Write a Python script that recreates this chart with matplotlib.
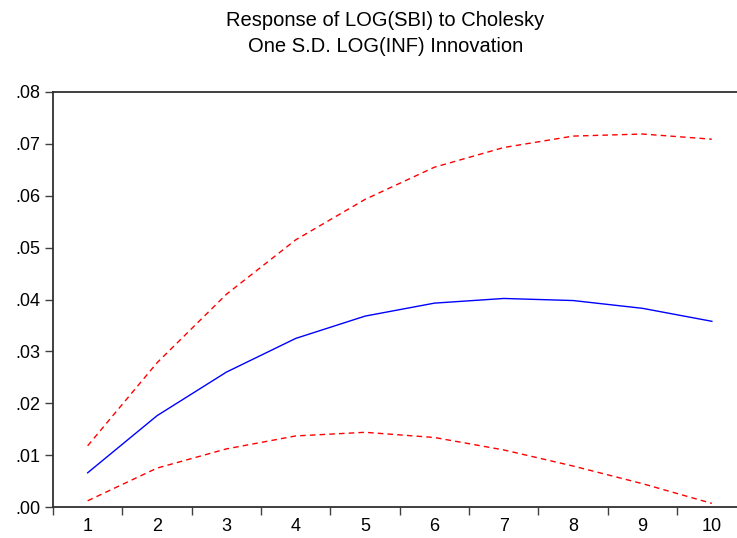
import numpy as np
import matplotlib
matplotlib.use('Agg')
import matplotlib.pyplot as plt
from matplotlib.ticker import FuncFormatter

plt.rcParams['font.family'] = ['Liberation Sans', 'DejaVu Sans']

# 数据
periods = [1, 2, 3, 4, 5, 6, 7, 8, 9, 10]
response = [0.0066, 0.0176, 0.0260, 0.0325, 0.0368, 0.0393, 0.0402, 0.0398, 0.0383, 0.0358]
upper_band = [0.0118, 0.0278, 0.0410, 0.0515, 0.0593, 0.0655, 0.0693, 0.0715, 0.0719, 0.0709]
lower_band = [0.0012, 0.0075, 0.0112, 0.0137, 0.0144, 0.0134, 0.0110, 0.0079, 0.0045, 0.0007]
y_ticks = [0.00, 0.01, 0.02, 0.03, 0.04, 0.05, 0.06, 0.07, 0.08]

fig = plt.figure(figsize=(7.37, 5.38), dpi=100)
ax = fig.add_axes([0.0719, 0.0576, 0.941, 0.7714])

ax.plot(periods, response, color='blue', lw=1.0)
ax.plot(periods, upper_band, color='red', lw=1.0, ls=(0, (4, 3)))
ax.plot(periods, lower_band, color='red', lw=1.0, ls=(0, (4, 3)))

ax.set_xlim(0.5, 10.5)
ax.set_ylim(0, 0.08)

# x 轴: 刻度在类别之间, 标签在类别中心
ax.set_xticks(np.arange(0.5, 11, 1.0))
ax.set_xticklabels([])
ax.set_xticks(periods, minor=True)
ax.set_xticklabels([str(p) for p in periods], minor=True)
ax.tick_params(axis='x', which='major', direction='out', length=6, width=1, color='#404040')
ax.tick_params(axis='x', which='minor', length=0, pad=8, labelsize=13)

ax.set_yticks(y_ticks)
ax.yaxis.set_major_formatter(FuncFormatter(lambda v, p: ('%.2f' % v).lstrip('0')))
ax.tick_params(axis='y', direction='out', length=6, width=1, color='#404040', labelsize=13, pad=3)

for side in ['left', 'bottom', 'top']:
    ax.spines[side].set_linewidth(1.3)
    ax.spines[side].set_color('#303030')
ax.spines['right'].set_visible(False)

fig.text(0.523, 0.962, 'Response of LOG(SBI) to Cholesky', ha='center', va='center', fontsize=14.5)
fig.text(0.523, 0.914, 'One S.D. LOG(INF) Innovation', ha='center', va='center', fontsize=14.5)

fig.savefig('out.png', dpi=100)
